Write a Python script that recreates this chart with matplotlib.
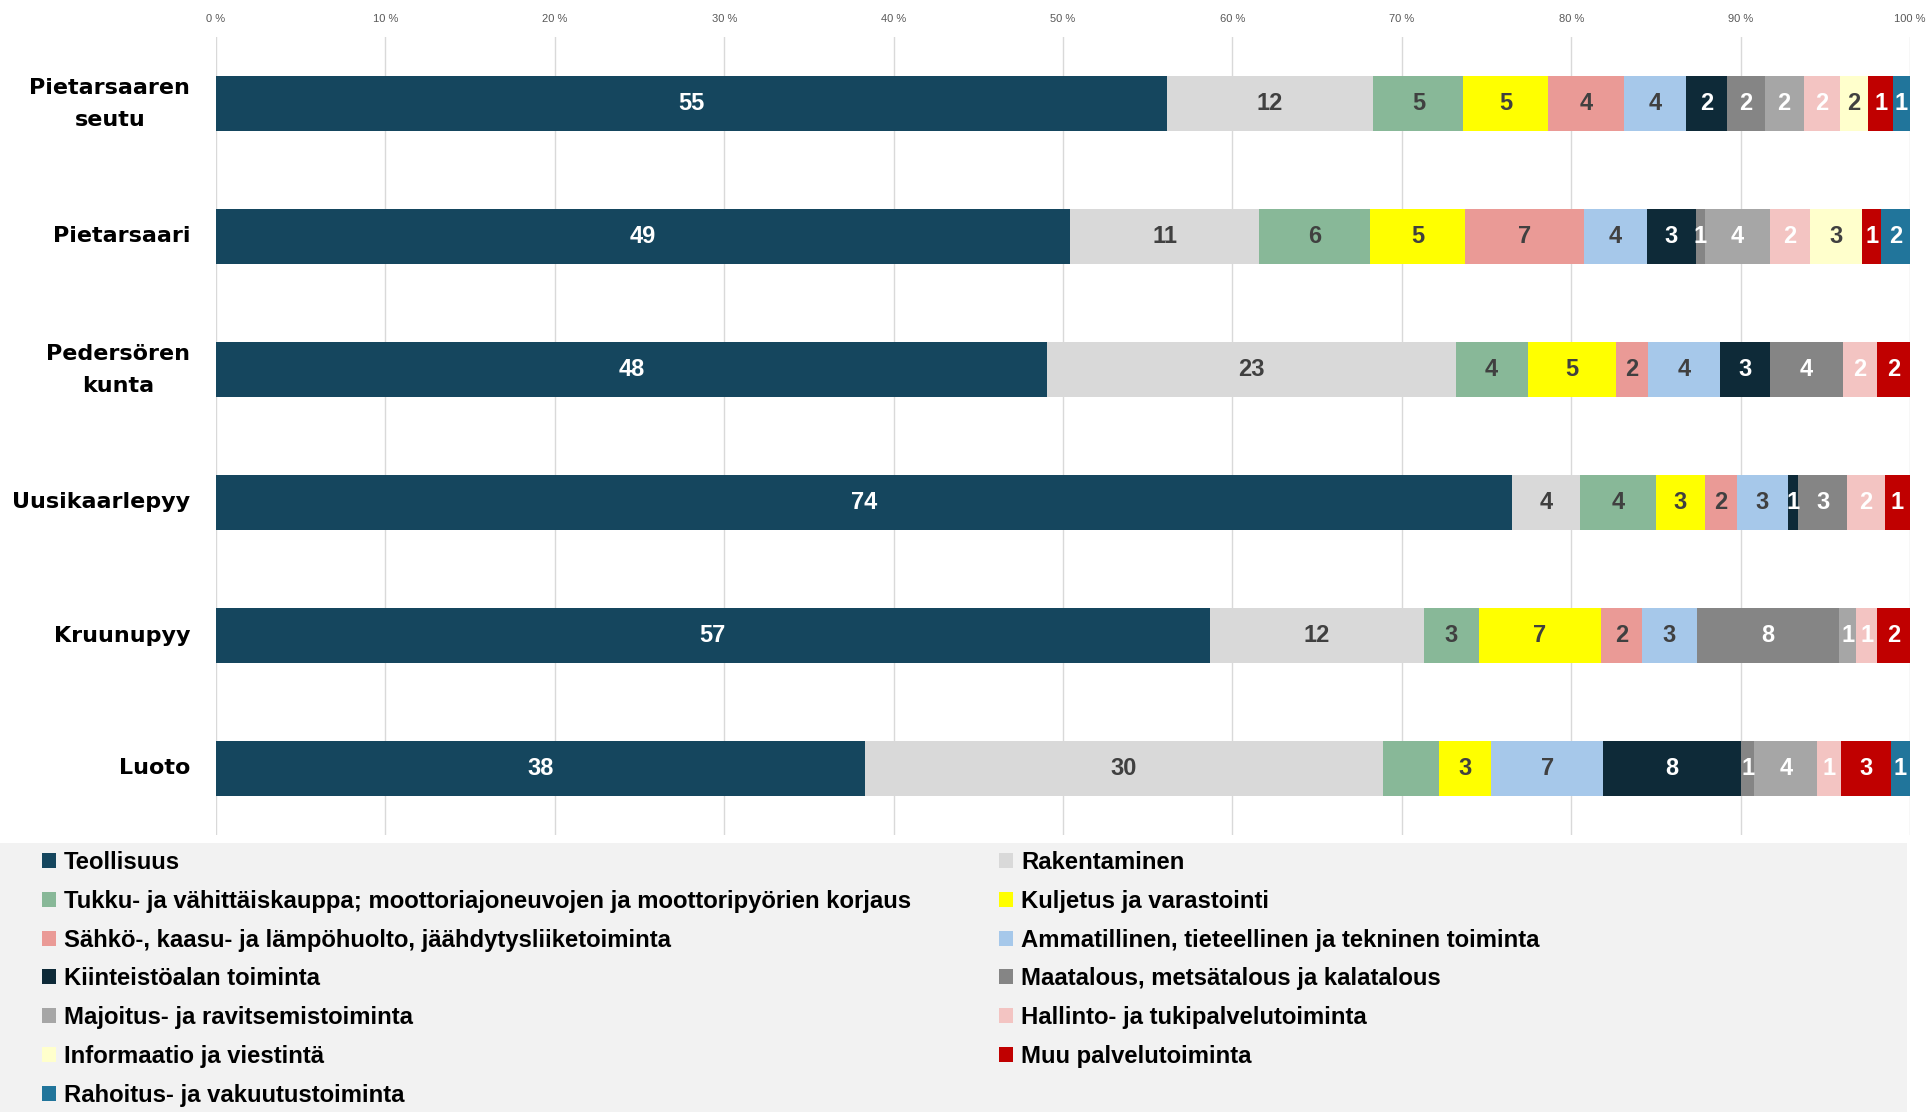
import matplotlib
matplotlib.use("Agg")
import matplotlib.pyplot as plt
from matplotlib.patches import Rectangle
import numpy as np

categories = ["Pietarsaaren\nseutu", "Pietarsaari", "Pedersören\nkunta",
              "Uusikaarlepyy", "Kruunupyy", "Luoto"]

series_names = [
    "Teollisuus", "Rakentaminen",
    "Tukku- ja vähittäiskauppa; moottoriajoneuvojen ja moottoripyörien korjaus",
    "Kuljetus ja varastointi",
    "Sähkö-, kaasu- ja lämpöhuolto, jäähdytysliiketoiminta",
    "Ammatillinen, tieteellinen ja tekninen toiminta",
    "Kiinteistöalan toiminta", "Maatalous, metsätalous ja kalatalous",
    "Majoitus- ja ravitsemistoiminta", "Hallinto- ja tukipalvelutoiminta",
    "Informaatio ja viestintä", "Muu palvelutoiminta",
    "Rahoitus- ja vakuutustoiminta",
]

teollisuus   = [56.11, 50.43, 49.06, 76.52, 58.66, 38.31]
rakentaminen = [12.21, 11.14, 24.12, 4.02, 12.68, 30.56]
tukku        = [5.32, 6.54, 4.25, 4.44, 3.19, 3.34]
kuljetus     = [4.98, 5.62, 5.21, 2.91, 7.22, 3.08]
sahko        = [4.48, 7.05, 1.89, 1.89, 2.41, 0.0]
ammatillinen = [3.70, 3.68, 4.23, 3.01, 3.25, 6.61]
kiinteisto   = [2.37, 2.89, 2.97, 0.61, 0.0, 8.12]
maatalous    = [2.26, 0.54, 4.32, 2.89, 8.40, 0.80]
majoitus     = [2.29, 3.84, 0.0, 0.0, 1.02, 3.69]
hallinto     = [2.15, 2.39, 1.99, 2.23, 1.23, 1.41]
informaatio  = [1.67, 3.06, 0.0, 0.0, 0.0, 0.0]
muu          = [1.46, 1.12, 1.96, 1.48, 1.94, 2.93]
rahoitus     = [1.00, 1.70, 0.0, 0.0, 0.0, 1.15]

teollisuus_lbl   = ["55", "49", "48", "74", "57", "38"]
rakentaminen_lbl = ["12", "11", "23", "4", "12", "30"]
tukku_lbl        = ["5", "6", "4", "4", "3", ""]
kuljetus_lbl     = ["5", "5", "5", "3", "7", "3"]
sahko_lbl        = ["4", "7", "2", "2", "2", ""]
ammatillinen_lbl = ["4", "4", "4", "3", "3", "7"]
kiinteisto_lbl   = ["2", "3", "3", "1", "", "8"]
maatalous_lbl    = ["2", "1", "4", "3", "8", "1"]
majoitus_lbl     = ["2", "4", "", "", "1", "4"]
hallinto_lbl     = ["2", "2", "2", "2", "1", "1"]
informaatio_lbl  = ["2", "3", "", "", "", ""]
muu_lbl          = ["1", "1", "2", "1", "2", "3"]
rahoitus_lbl     = ["1", "2", "", "", "", "1"]

series_values = [teollisuus, rakentaminen, tukku, kuljetus, sahko, ammatillinen,
                 kiinteisto, maatalous, majoitus, hallinto, informaatio, muu, rahoitus]
series_labels = [teollisuus_lbl, rakentaminen_lbl, tukku_lbl, kuljetus_lbl, sahko_lbl,
                 ammatillinen_lbl, kiinteisto_lbl, maatalous_lbl, majoitus_lbl,
                 hallinto_lbl, informaatio_lbl, muu_lbl, rahoitus_lbl]

colors = ["#15465e", "#d9d9d9", "#88b898", "#ffff00", "#ea9a96", "#a6c8ea",
          "#0e2a38", "#858585", "#a6a6a6", "#f3c4c2", "#ffffcc", "#c00000", "#21759b"]
text_colors = ["white", "#404040", "#404040", "#404040", "#404040", "#404040",
               "white", "white", "white", "white", "#404040", "white", "white"]

xticks = [0, 10, 20, 30, 40, 50, 60, 70, 80, 90, 100]
xticklabels = [f"{t} %" for t in xticks]

W, H = 1926, 1112
fig = plt.figure(figsize=(W / 100, H / 100), dpi=100)
fig.patch.set_facecolor("white")

# legend background
fig.patches.append(Rectangle((0, 0), 1907 / W, 1 - 843 / H, transform=fig.transFigure,
                             facecolor="#f2f2f2", edgecolor="none", zorder=0))

ax = fig.add_axes([216 / W, 1 - 835 / H, (1910 - 216) / W, (835 - 37) / H])
ax.set_facecolor("white")

y = np.arange(len(categories))
left = np.zeros(len(categories))
handles = []
for vals, lbls, col, tcol, name in zip(series_values, series_labels, colors,
                                         text_colors, series_names):
    vals = np.array(vals, dtype=float)
    bars = ax.barh(y, vals, left=left, height=0.42, color=col, label=name,
                   edgecolor="none", zorder=3)
    handles.append(bars)
    for i, (v, l) in enumerate(zip(vals, lbls)):
        if l and v > 0:
            ax.text(left[i] + v / 2, y[i], l, ha="center", va="center",
                    color=tcol, fontsize=17, fontweight="bold",
                    family=["Liberation Sans", "DejaVu Sans"], zorder=4)
    left += vals

ax.set_xlim(0, 100)
ax.set_ylim(len(categories) - 0.5, -0.5)
ax.set_yticks(y)
ax.set_yticklabels(categories, fontsize=16, fontweight="bold",
                   family=["DejaVu Sans"], multialignment="center", linespacing=1.75)
for lbl in ax.get_yticklabels():
    lbl.set_verticalalignment("center")
ax.set_xticks(xticks)
ax.set_xticklabels(xticklabels, fontsize=8, color="#595959",
                   family=["Liberation Sans", "DejaVu Sans"])
ax.xaxis.tick_top()
ax.tick_params(axis="x", length=0, pad=9)
ax.tick_params(axis="y", length=0, pad=18.5)
for s in ax.spines.values():
    s.set_visible(False)
ax.grid(axis="x", color="#d9d9d9", linewidth=1, zorder=0)
ax.set_axisbelow(True)

legend_font = dict(family=["Liberation Sans", "DejaVu Sans"], weight="bold", size=17.2)
common = dict(frameon=False, handlelength=0.6, handleheight=0.6, handletextpad=0.33,
              labelspacing=0.66, borderaxespad=0, borderpad=0, prop=legend_font,
              loc="upper left")
col1 = [0, 2, 4, 6, 8, 10, 12]
col2 = [1, 3, 5, 7, 9, 11]
fig.legend([handles[i] for i in col1], [series_names[i] for i in col1],
           bbox_to_anchor=(42 / W, 1 - 851 / H), **common)
fig.legend([handles[i] for i in col2], [series_names[i] for i in col2],
           bbox_to_anchor=(999 / W, 1 - 851 / H), **common)

fig.savefig("out.png", dpi=100, facecolor="white")
